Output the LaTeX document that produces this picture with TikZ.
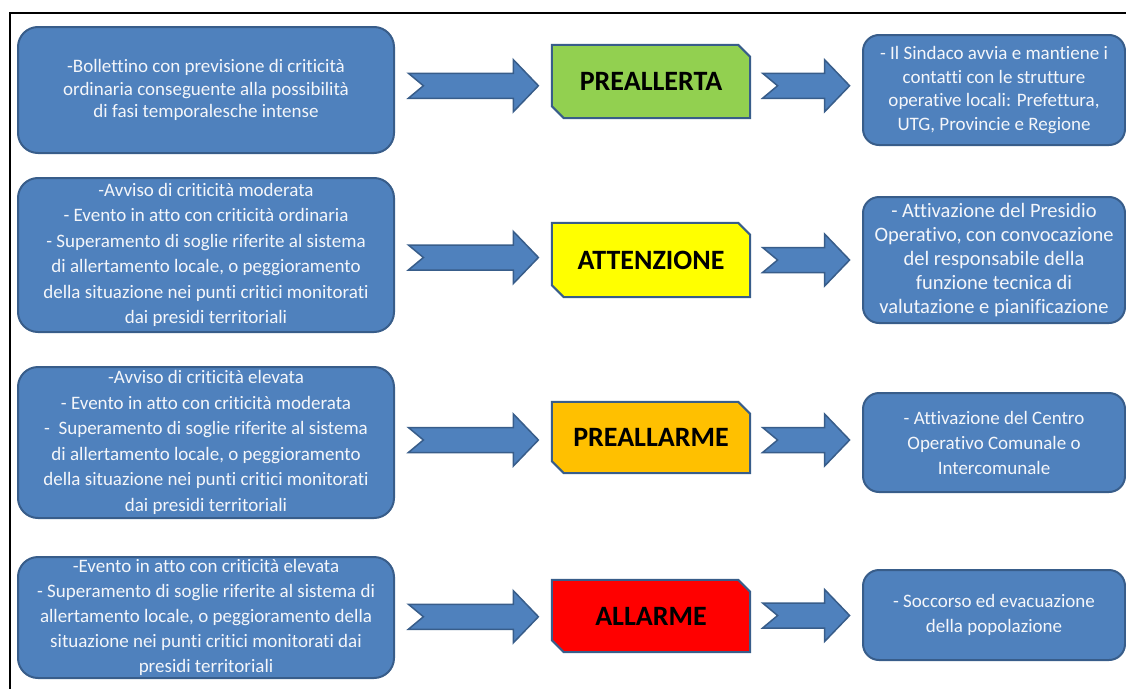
\documentclass[tikz,border=0pt]{standalone}
\usepackage{fontspec}
\setmainfont[Ligatures=NoCommon]{Carlito}
\usetikzlibrary{calc,backgrounds}
\definecolor{boxblue}{HTML}{4F81BD}
\definecolor{edgeblue}{HTML}{385D8A}
\definecolor{sgreen}{HTML}{92D050}
\definecolor{syellow}{HTML}{FFFF00}
\definecolor{sorange}{HTML}{FFC000}
\definecolor{sred}{HTML}{FF0000}
\definecolor{boxtext}{HTML}{F4F6FA}
\tikzset{
  infobox/.style={draw=edgeblue, line width=2pt, fill=boxblue, rounded corners=20pt,
    text=boxtext, align=center, inner sep=0pt},
  leftbox/.style={infobox, minimum width=376pt},
  rightbox/.style={infobox, minimum width=262pt, rounded corners=16pt},
  statusbox/.style={minimum width=198pt, inner sep=0pt,
    font=\fontsize{28}{32}\selectfont\bfseries, text=black},
  snipline/.style={draw=edgeblue, line width=2pt, line join=miter},
  blockarrow/.style={draw=edgeblue, line width=1.5pt, fill=boxblue, line join=miter},
  frameline/.style={draw=black, line width=2.5pt, line join=miter},
}
\newcommand\snipshape[2]{%
  \draw[snipline, fill=#2] (#1.north west) -- ($(#1.north east)+(-12pt,0)$)
    -- ($(#1.north east)+(0,-12pt)$) -- (#1.south east)
    -- ($(#1.south west)+(12pt,0)$) -- ($(#1.south west)+(0,12pt)$) -- cycle;}
\newcommand\barrow[2]{%
  \draw[blockarrow] let \p1=(#1) in
    (\x1-#2,\y1+12.5pt) -- (\x1+#2-25pt,\y1+12.5pt) -- (\x1+#2-25pt,\y1+26pt)
    -- (\x1+#2,\y1) -- (\x1+#2-25pt,\y1-26pt) -- (\x1+#2-25pt,\y1-12.5pt)
    -- (\x1-#2,\y1-12.5pt) -- (\x1-#2+15pt,\y1) -- cycle;}
\begin{document}
\begin{tikzpicture}[x=1pt,y=-1pt]
\useasboundingbox (0,0) rectangle (1126,688);
\draw[frameline] (10,700) -- (10,13) -- (1140,13);

% left boxes
\node[leftbox, minimum height=126pt, font=\fontsize{19}{22.5}\selectfont] (L1) at (206,90)
 {-Bollettino con previsione di criticità\\ordinaria conseguente alla possibilità\\di fasi temporalesche intense};
\node[leftbox, minimum height=154pt, font=\fontsize{19}{25.5}\selectfont] (L2) at (206,255)
 {-Avviso di criticità moderata\\- Evento in atto con criticità ordinaria\\- Superamento di soglie riferite al sistema\\di allertamento locale, o peggioramento\\della situazione nei punti critici monitorati\\dai presidi territoriali};
\node[leftbox, minimum height=151pt, font=\fontsize{19}{25.5}\selectfont] (L3) at (206,442.5)
 {-Avviso di criticità elevata\\- Evento in atto con criticità moderata\\-\ \ Superamento di soglie riferite al sistema\\di allertamento locale, o peggioramento\\della situazione nei punti critici monitorati\\dai presidi territoriali};
\node[leftbox, minimum height=121pt, font=\fontsize{19}{25}\selectfont] (L4) at (206,617.5)
 {-Evento in atto con criticità elevata\\- Superamento di soglie riferite al sistema di\\allertamento locale, o peggioramento della\\situazione nei punti critici monitorati dai\\presidi territoriali};

% status boxes
\node[statusbox, minimum height=73pt] (S1) at (651,81.5) {PREALLERTA};
\node[statusbox, minimum height=74pt] (S2) at (651,260) {ATTENZIONE};
\node[statusbox, minimum height=71pt] (S3) at (651,437.5) {PREALLARME};
\node[statusbox, minimum height=72pt] (S4) at (651,616) {ALLARME};
\begin{scope}[on background layer]
\snipshape{S1}{sgreen}
\snipshape{S2}{syellow}
\snipshape{S3}{sorange}
\snipshape{S4}{sred}
\end{scope}

% right boxes
\node[rightbox, minimum height=110pt, font=\fontsize{19}{23.5}\selectfont] (R1) at (994,90)
 {- Il Sindaco avvia e mantiene i\\contatti con le strutture\\operative locali: Prefettura,\\UTG, Provincie e Regione};
\node[rightbox, minimum height=126pt, font=\fontsize{20.5}{24}\selectfont] (R2) at (994,260)
 {- Attivazione del Presidio\\Operativo, con convocazione\\del responsabile della\\funzione tecnica di\\valutazione e pianificazione};
\node[rightbox, minimum height=99pt, font=\fontsize{19}{25}\selectfont] (R3) at (994,442.5)
 {- Attivazione del Centro\\Operativo Comunale o\\Intercomunale};
\node[rightbox, minimum height=90pt, font=\fontsize{19}{25}\selectfont] (R4) at (994,615)
 {- Soccorso ed evacuazione\\della popolazione};

% block arrows
\foreach \k in {1,2,3,4}{
  \coordinate (A\k) at ($(L\k.east)!0.5!(S\k.west)$);
  \coordinate (B\k) at ($(S\k.east)!0.5!(R\k.west)$);
  \barrow{A\k}{65pt}
  \barrow{B\k}{43.5pt}
}
\end{tikzpicture}
\end{document}
